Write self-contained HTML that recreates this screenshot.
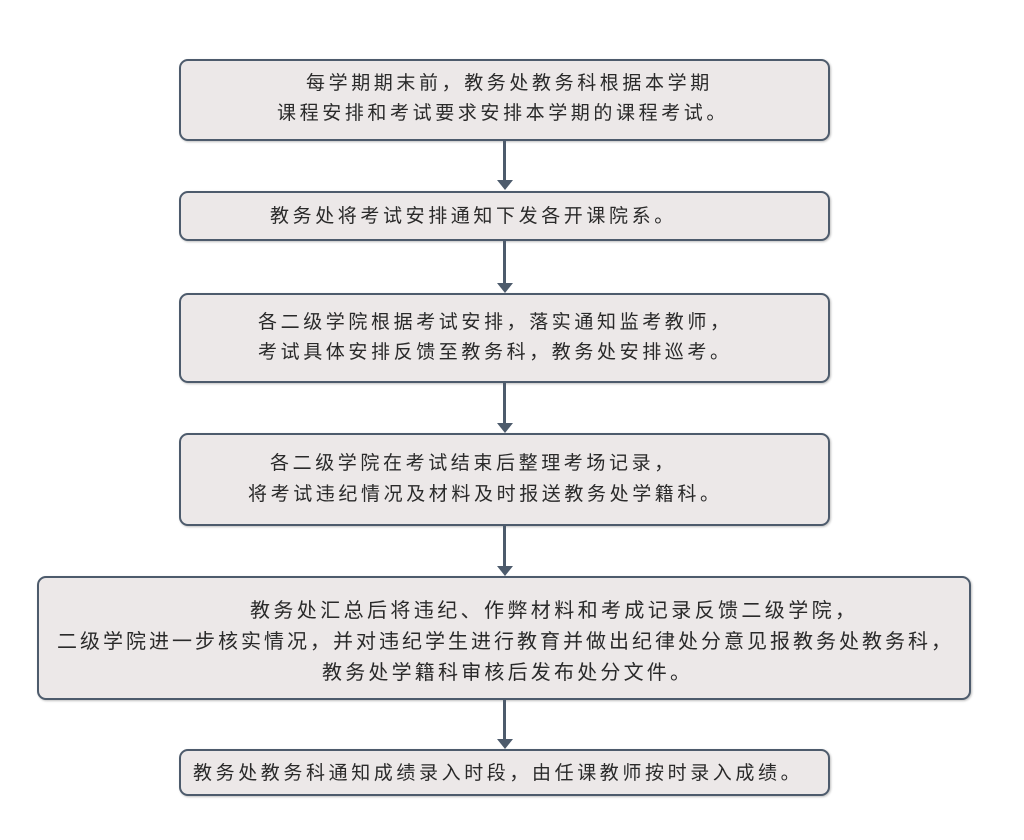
<!DOCTYPE html>
<html><head><meta charset="utf-8"><style>
body{margin:0;width:1024px;height:840px;background:#fff;position:relative;overflow:hidden;font-family:"Liberation Sans","Noto Sans CJK SC",sans-serif;color:#2a2a2a;}
.b{position:absolute;background:#ece8e8;border:2px solid #4d5b6c;border-radius:9px;box-sizing:border-box;box-shadow:1px 1px 2px rgba(0,0,0,.25);}
.t{position:absolute;white-space:nowrap;font-size:19px;letter-spacing:3.6px;line-height:24px;transform:translateY(-12px);}
.v{position:absolute;left:503px;width:3px;background:#4d5b6c;}
.h{position:absolute;left:497px;width:0;height:0;border-left:8px solid transparent;border-right:8px solid transparent;border-top:10px solid #4d5b6c;}
</style></head><body>
<div class="b" style="left:179px;top:59px;width:651px;height:82px"></div>
<div class="b" style="left:179px;top:191px;width:651px;height:50px"></div>
<div class="b" style="left:179px;top:293px;width:651px;height:90px"></div>
<div class="b" style="left:179px;top:433px;width:651px;height:93px"></div>
<div class="b" style="left:37px;top:576px;width:934px;height:124px"></div>
<div class="b" style="left:179px;top:749px;width:651px;height:47px"></div>

<div class="v" style="top:141px;height:40px"></div><div class="h" style="top:180px"></div>
<div class="v" style="top:241px;height:42px"></div><div class="h" style="top:283px"></div>
<div class="v" style="top:383px;height:40px"></div><div class="h" style="top:423px"></div>
<div class="v" style="top:526px;height:40px"></div><div class="h" style="top:566px"></div>
<div class="v" style="top:700px;height:39px"></div><div class="h" style="top:739px"></div>

<div class="t" style="left:306px;top:84px">每学期期末前，教务处教务科根据本学期</div>
<div class="t" style="left:277px;top:114px">课程安排和考试要求安排本学期的课程考试。</div>
<div class="t" style="left:270px;top:217px">教务处将考试安排通知下发各开课院系。</div>
<div class="t" style="left:258px;top:323px">各二级学院根据考试安排，落实通知监考教师，</div>
<div class="t" style="left:258px;top:353px">考试具体安排反馈至教务科，教务处安排巡考。</div>
<div class="t" style="left:270px;top:464px">各二级学院在考试结束后整理考场记录，</div>
<div class="t" style="left:248px;top:495px">将考试违纪情况及材料及时报送教务处学籍科。</div>
<div class="t" style="left:250px;top:611px;font-size:20px;letter-spacing:3.4px">教务处汇总后将违纪、作弊材料和考成记录反馈二级学院，</div>
<div class="t" style="left:57px;top:642px;font-size:20px;letter-spacing:3.0px">二级学院进一步核实情况，并对违纪学生进行教育并做出纪律处分意见报教务处教务科，</div>
<div class="t" style="left:322px;top:673px;font-size:20px;letter-spacing:3.2px">教务处学籍科审核后发布处分文件。</div>
<div class="t" style="left:193px;top:774px">教务处教务科通知成绩录入时段，由任课教师按时录入成绩。</div>
</body></html>
